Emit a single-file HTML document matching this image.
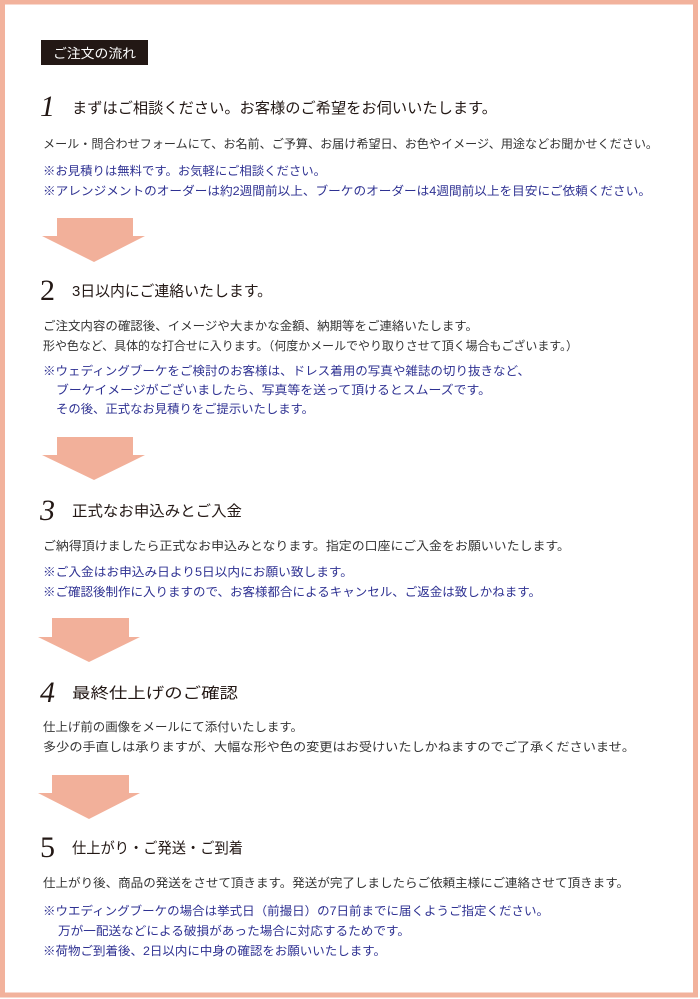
<!DOCTYPE html>
<html><head><meta charset="utf-8"><style>
html,body{margin:0;padding:0;background:#fff;}
svg{display:block;}
text{font-family:"Liberation Sans","Noto Sans CJK JP",sans-serif;}
.b{fill:#333;font-size:12px;}
.n{fill:#2e3192;font-size:12px;}
.h{fill:#231815;font-size:15px;}
.num{fill:#231815;font-size:30px;font-family:"Liberation Serif",serif;}
</style></head><body>
<svg width="700" height="999" viewBox="0 0 700 999" xmlns="http://www.w3.org/2000/svg">
<rect x="2.5" y="2" width="693" height="993" fill="#fff" stroke="#f2b29c" stroke-width="5"/>
<rect x="41" y="40" width="107" height="25" fill="#231815"/>
<text x="53" y="58" fill="#fff" font-size="13" textLength="83" lengthAdjust="spacingAndGlyphs">ご注文の流れ</text>

<g fill="#f2b09a">
<polygon points="57,218 133,218 133,236 145,236 94,262 42,236 57,236"/>
<polygon points="57,437 133,437 133,455 145,455 94,480 42,455 57,455"/>
<polygon points="52,618 129,618 129,637 140,637 89,662 38,637 52,637"/>
<polygon points="52,775 129,775 129,793 140,793 89,819 38,793 52,793"/>
</g>

<text class="num" x="40" y="116" font-style="italic">1</text>
<text class="h" x="72" y="113" textLength="425" lengthAdjust="spacingAndGlyphs">まずはご相談ください。お客様のご希望をお伺いいたします。</text>
<text class="b" x="43" y="148" textLength="615" lengthAdjust="spacingAndGlyphs">メール・問合わせフォームにて、お名前、ご予算、お届け希望日、お色やイメージ、用途などお聞かせください。</text>
<text class="n" x="43" y="175" textLength="283" lengthAdjust="spacingAndGlyphs">※お見積りは無料です。お気軽にご相談ください。</text>
<text class="n" x="43" y="195" textLength="608" lengthAdjust="spacingAndGlyphs">※アレンジメントのオーダーは約2週間前以上、ブーケのオーダーは4週間前以上を目安にご依頼ください。</text>

<text class="num" x="40" y="300">2</text>
<text class="h" x="72" y="296" textLength="200" lengthAdjust="spacingAndGlyphs">3日以内にご連絡いたします。</text>
<text class="b" x="43" y="330" textLength="435" lengthAdjust="spacingAndGlyphs">ご注文内容の確認後、イメージや大まかな金額、納期等をご連絡いたします。</text>
<text class="b" x="43" y="350" textLength="535" lengthAdjust="spacingAndGlyphs">形や色など、具体的な打合せに入ります。（何度かメールでやり取りさせて頂く場合もございます。）</text>
<text class="n" x="43" y="375" textLength="487" lengthAdjust="spacingAndGlyphs">※ウェディングブーケをご検討のお客様は、ドレス着用の写真や雑誌の切り抜きなど、</text>
<text class="n" x="56" y="394" textLength="435" lengthAdjust="spacingAndGlyphs">ブーケイメージがございましたら、写真等を送って頂けるとスムーズです。</text>
<text class="n" x="56" y="413" textLength="258" lengthAdjust="spacingAndGlyphs">その後、正式なお見積りをご提示いたします。</text>

<text class="num" x="40" y="520" font-style="italic">3</text>
<text class="h" x="72" y="516" textLength="170" lengthAdjust="spacingAndGlyphs">正式なお申込みとご入金</text>
<text class="b" x="43" y="550" textLength="527" lengthAdjust="spacingAndGlyphs">ご納得頂けましたら正式なお申込みとなります。指定の口座にご入金をお願いいたします。</text>
<text class="n" x="43" y="576" textLength="310" lengthAdjust="spacingAndGlyphs">※ご入金はお申込み日より5日以内にお願い致します。</text>
<text class="n" x="43" y="596" textLength="498" lengthAdjust="spacingAndGlyphs">※ご確認後制作に入りますので、お客様都合によるキャンセル、ご返金は致しかねます。</text>

<text class="num" x="40" y="702" font-style="italic">4</text>
<text class="h" x="72" y="698" textLength="166" lengthAdjust="spacingAndGlyphs">最終仕上げのご確認</text>
<text class="b" x="43" y="731" textLength="260" lengthAdjust="spacingAndGlyphs">仕上げ前の画像をメールにて添付いたします。</text>
<text class="b" x="43" y="751" textLength="592" lengthAdjust="spacingAndGlyphs">多少の手直しは承りますが、大幅な形や色の変更はお受けいたしかねますのでご了承くださいませ。</text>

<text class="num" x="40" y="857">5</text>
<text class="h" x="72" y="853" textLength="171" lengthAdjust="spacingAndGlyphs">仕上がり・ご発送・ご到着</text>
<text class="b" x="43" y="887" textLength="586" lengthAdjust="spacingAndGlyphs">仕上がり後、商品の発送をさせて頂きます。発送が完了しましたらご依頼主様にご連絡させて頂きます。</text>
<text class="n" x="43" y="915" textLength="506" lengthAdjust="spacingAndGlyphs">※ウエディングブーケの場合は挙式日（前撮日）の7日前までに届くようご指定ください。</text>
<text class="n" x="58" y="935" textLength="352" lengthAdjust="spacingAndGlyphs">万が一配送などによる破損があった場合に対応するためです。</text>
<text class="n" x="43" y="955" textLength="343" lengthAdjust="spacingAndGlyphs">※荷物ご到着後、2日以内に中身の確認をお願いいたします。</text>
</svg>
</body></html>
